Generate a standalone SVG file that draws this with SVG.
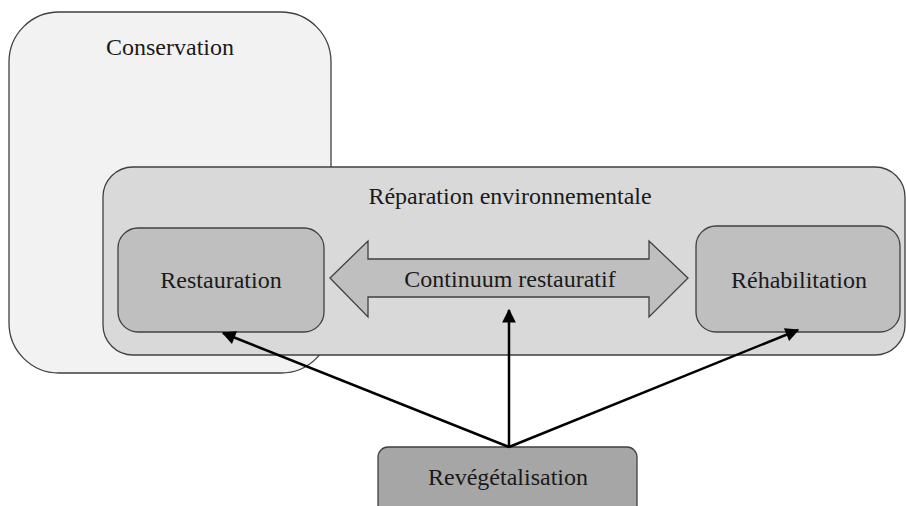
<svg xmlns="http://www.w3.org/2000/svg" width="906" height="506" viewBox="0 0 906 506">
<defs>
<style>
.box{stroke:#404040;stroke-width:1.3}
.t{font-family:"Liberation Serif","Times New Roman",serif;font-size:24px;fill:#1a1a1a;text-anchor:middle}
.c{stroke:#000;stroke-width:2.5;fill:none;marker-end:url(#ah)}
</style>
<marker id="ah" viewBox="0 0 10 10" refX="9" refY="5" markerWidth="6" markerHeight="5.5" orient="auto" markerUnits="strokeWidth">
<path d="M0,0 L10,5 L0,10 z" fill="#000"/>
</marker>
</defs>
<rect width="906" height="506" fill="#fff"/>
<g id="conservation">
<rect class="box" x="9" y="12" width="322" height="361" rx="50" ry="50" fill="#f2f2f2"/>
<text class="t" x="170" y="55">Conservation</text>
</g>
<g id="reparation">
<rect class="box" x="103" y="167" width="802" height="188" rx="30" ry="30" fill="#d9d9d9"/>
<text class="t" x="510" y="204">Réparation environnementale</text>
</g>
<g id="restauration">
<rect class="box" x="118" y="228" width="206" height="104" rx="20" ry="20" fill="#bfbfbf"/>
<text class="t" x="221" y="288">Restauration</text>
</g>
<g id="continuum">
<path class="box" d="M330,278 L368,241 L368,259 L649,259 L649,241 L688,278 L649,317 L649,297 L368,297 L368,317 Z" fill="#bfbfbf"/>
<text class="t" x="510" y="287">Continuum restauratif</text>
</g>
<g id="rehabilitation">
<rect class="box" x="696" y="226" width="204" height="106" rx="20" ry="20" fill="#bfbfbf"/>
<text class="t" x="799" y="288">Réhabilitation</text>
</g>
<g id="revegetalisation">
<rect class="box" x="378" y="447" width="259" height="70" rx="10" ry="10" fill="#a6a6a6"/>
<text class="t" x="508" y="485">Revégétalisation</text>
</g>
<g id="connectors">
<line class="c" x1="509" y1="447" x2="223" y2="333"/>
<line class="c" x1="509" y1="447" x2="509" y2="310"/>
<line class="c" x1="509" y1="447" x2="798" y2="330"/>
</g>
</svg>
